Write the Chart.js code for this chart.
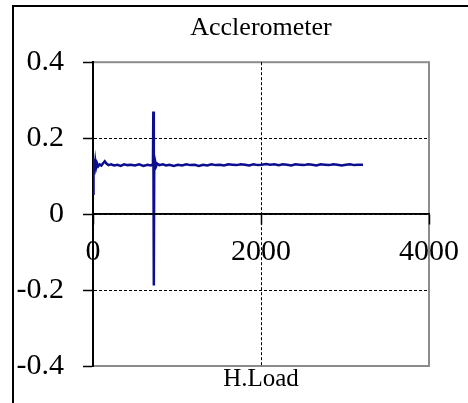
<!DOCTYPE html>
<html>
<head>
<meta charset="utf-8">
<title>Acclerometer</title>
<script src="https://cdn.jsdelivr.net/npm/chart.js@4.4.1/dist/chart.umd.min.js"></script>
<style>
  body { margin: 0; background: #fff; }
  canvas { display: block; }
</style>
</head>
<body>
<canvas id="accelChart" width="468" height="403"></canvas>
<script>
// H.Load (x) against accelerometer reading (y)
const hLoad = [
    0, 3, 6, 10, 15, 20, 28, 36, 48, 62,
    80, 100, 120, 140, 160, 185, 215, 250, 290, 330,
    370, 410, 450, 500, 550, 600, 650, 690, 708, 714,
    718, 724, 729, 735, 742, 752, 765, 790, 830, 870,
    910, 960, 1010, 1060, 1110, 1160, 1210, 1260, 1310, 1360,
    1410, 1460, 1510, 1560, 1610, 1660, 1710, 1760, 1810, 1860,
    1910, 1960, 2010, 2060, 2110, 2160, 2210, 2260, 2310, 2360,
    2410, 2460, 2510, 2560, 2610, 2660, 2710, 2760, 2810, 2860,
    2910, 2960, 3010, 3060, 3110, 3160, 3214
];
const accel = [
    0.13, 0.05, 0.145, 0.10, 0.14, 0.116, 0.137, 0.122, 0.134, 0.126,
    0.131, 0.128, 0.134, 0.139, 0.133, 0.129, 0.131, 0.128, 0.13, 0.127,
    0.131, 0.129, 0.13, 0.128, 0.131, 0.127, 0.13, 0.128, 0.131, 0.14,
    0.27, -0.188, 0.146, 0.121, 0.137, 0.126, 0.133, 0.129, 0.131, 0.128,
    0.13, 0.127, 0.13, 0.128, 0.131, 0.129, 0.13, 0.127, 0.13, 0.128,
    0.131, 0.129, 0.13, 0.128, 0.131, 0.13, 0.129, 0.131, 0.13, 0.128,
    0.131, 0.129, 0.13, 0.132, 0.13, 0.131, 0.129, 0.131, 0.13, 0.128,
    0.131, 0.13, 0.129, 0.131, 0.13, 0.128, 0.131, 0.13, 0.129, 0.131,
    0.13, 0.128, 0.13, 0.131, 0.129, 0.13, 0.13
];
const xTicks = [0, 2000, 4000];
const yTicks = [-0.4, -0.2, 0, 0.2, 0.4];

const serif = "'Liberation Serif', 'Times New Roman', serif";

const isZero = v => Math.abs(v) < 1e-9;
const isMidGrid = v => Math.abs(Math.abs(v) - 0.2) < 0.01;

// picture frame (left + top edge), grey box round the plot, x axis line at y = 0
const framePlugin = {
    id: 'frame',
    beforeDraw(chart) {
        const { ctx, chartArea: a } = chart;
        ctx.save();
        ctx.strokeStyle = '#000';
        ctx.lineWidth = 2;
        ctx.beginPath();
        ctx.moveTo(13, chart.height);
        ctx.lineTo(13, 6);
        ctx.lineTo(chart.width, 6);
        ctx.stroke();
        ctx.strokeStyle = '#8c8c8c';
        ctx.strokeRect(a.left, a.top, a.right - a.left, a.bottom - a.top);
        ctx.restore();
    },
    afterDraw(chart) {
        const { ctx, chartArea: a } = chart;
        const y0 = chart.scales.y.getPixelForValue(0);
        ctx.save();
        ctx.strokeStyle = '#000';
        ctx.lineWidth = 1.5;
        ctx.setLineDash([]);
        ctx.beginPath();
        ctx.moveTo(a.left, y0);
        ctx.lineTo(a.right, y0);
        ctx.stroke();
        ctx.restore();
    }
};

const ctx = document.getElementById('accelChart').getContext('2d');

new Chart(ctx, {
    type: 'line',
    data: {
        datasets: [{
            label: 'Acclerometer',
            data: hLoad.map((x, i) => ({ x: x, y: accel[i] })),
            borderColor: '#0d0d8f',
            borderWidth: 2.5,
            pointRadius: 0,
            tension: 0,
            fill: false
        }]
    },
    options: {
        responsive: false,
        animation: false,
        layout: { padding: { left: 13, right: 39, top: 0, bottom: 9.25 } },
        plugins: {
            legend: { display: false },
            tooltip: { enabled: false },
            title: {
                display: true,
                fullSize: false,
                text: 'Acclerometer',
                color: '#000',
                font: { family: serif, size: 26, weight: 'normal' },
                padding: { top: 13, bottom: 18 }
            }
        },
        scales: {
            x: {
                type: 'linear',
                position: { y: 0 },
                min: 0,
                max: 4000,
                afterBuildTicks: s => { s.ticks = xTicks.map(v => ({ value: v })); },
                afterFit: s => { s.paddingLeft = 0; s.paddingRight = 0; },
                ticks: {
                    color: '#000',
                    font: { family: serif, size: 30 },
                    padding: 10,
                    maxRotation: 0,
                    callback: v => String(v)
                },
                grid: {
                    color: c => (c.tick && c.tick.value === 2000) ? '#000' : 'transparent',
                    lineWidth: 1,
                    tickColor: '#000',
                    tickLength: 10,
                    tickWidth: 1.5,
                    tickBorderDash: []
                },
                border: { display: true, color: '#000', width: 1.5, dash: [3, 2] }
            },
            x2: {
                type: 'linear',
                position: 'bottom',
                min: 0,
                max: 4000,
                afterFit: s => { s.paddingLeft = 0; s.paddingRight = 0; },
                ticks: { display: false },
                grid: { display: false, drawTicks: false },
                border: { display: false },
                title: {
                    display: true,
                    text: 'H.Load',
                    color: '#000',
                    font: { family: serif, size: 25, lineHeight: 1.07 },
                    padding: 0
                }
            },
            y: {
                type: 'linear',
                position: 'left',
                min: -0.4,
                max: 0.4,
                afterBuildTicks: s => { s.ticks = yTicks.map(v => ({ value: v })); },
                afterFit: s => { s.width = 80; },
                ticks: {
                    color: '#000',
                    font: { family: serif, size: 30 },
                    padding: 19,
                    callback: v => String(v)
                },
                grid: {
                    color: c => (c.tick && (isMidGrid(c.tick.value) || isZero(c.tick.value))) ? '#000' : 'transparent',
                    lineWidth: 1,
                    tickColor: '#000',
                    tickLength: 10,
                    tickWidth: 1.5,
                    tickBorderDash: []
                },
                border: { color: '#000', width: 2, dash: [3, 2] }
            }
        }
    },
    plugins: [framePlugin]
});
</script>
</body>
</html>
